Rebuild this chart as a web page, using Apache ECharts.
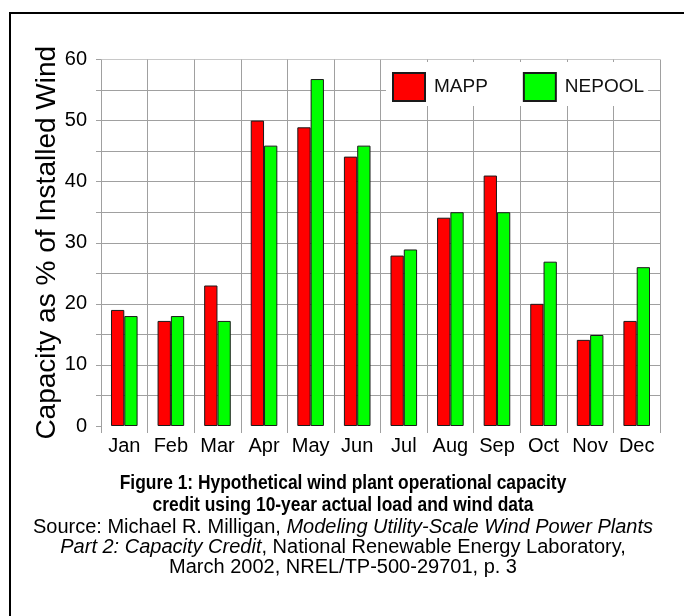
<!DOCTYPE html>
<html>
<head>
<meta charset="utf-8">
<script src="https://cdn.jsdelivr.net/npm/echarts@6/dist/echarts.min.js"></script>
<style>
  html, body { margin: 0; padding: 0; background: #fff; }
  #main { width: 684px; height: 616px; }
</style>
</head>
<body>
<div id="main"></div>
<script>
// month names on the x axis
const months = ['Jan', 'Feb', 'Mar', 'Apr', 'May', 'Jun', 'Jul', 'Aug', 'Sep', 'Oct', 'Nov', 'Dec'];
// capacity credit, % of installed wind
const mapp = [19, 17.2, 23, 50, 48.9, 44.1, 27.9, 34.1, 41, 20, 14.1, 17.2];
const nepool = [18, 18, 17.2, 45.9, 56.8, 45.9, 28.9, 35, 35, 26.9, 14.9, 26];

const font = '"Liberation Sans", Arial, sans-serif';

// gridline colours per tick (0..60 step 5), no line at zero
const gridColors = ['transparent'];
for (let i = 1; i <= 12; i++) gridColors.push(i === 12 ? '#c8c8c8' : '#a0a0a0');

const chart = echarts.init(document.getElementById('main'), null, { renderer: 'canvas' });

chart.setOption({
  animation: false,
  backgroundColor: '#fff',
  textStyle: { fontFamily: font },
  graphic: [
    {
      // frame round the figure
      type: 'rect',
      shape: { x: 10, y: 13, width: 700, height: 700 },
      style: { fill: 'none', stroke: '#000', lineWidth: 2 },
      z: 0
    },
    {
      type: 'text',
      x: 343,
      y: 472,
      scaleX: 0.87,
      style: {
        text: 'Figure 1: Hypothetical wind plant operational capacity\ncredit using 10-year actual load and wind data',
        font: 'bold 20px ' + font,
        lineHeight: 22,
        align: 'center',
        textAlign: 'center',
        verticalAlign: 'top',
        textVerticalAlign: 'top',
        fill: '#000'
      }
    },
    {
      type: 'text',
      x: 343,
      y: 517,
      style: {
        text: 'Source: Michael R. Milligan, {i|Modeling Utility-Scale Wind Power Plants}\n{i|Part 2: Capacity Credit}, National Renewable Energy Laboratory,\nMarch 2002, NREL/TP-500-29701, p. 3',
        font: '20px ' + font,
        lineHeight: 20,
        align: 'center',
        textAlign: 'center',
        verticalAlign: 'top',
        textVerticalAlign: 'top',
        fill: '#000',
        rich: { i: { fontFamily: font, fontStyle: 'italic', fontSize: 20, lineHeight: 20, fill: '#000', color: '#000' } }
      }
    }
  ],
  legend: {
    data: ['MAPP', 'NEPOOL'],
    left: 386,
    top: 62,
    padding: [10, 4, 4, 6],
    backgroundColor: '#fff',
    itemWidth: 32,
    itemHeight: 28,
    itemGap: 35,
    icon: 'rect',
    textStyle: { fontSize: 19, color: '#111', padding: [0, 0, 0, 4] },
    z: 10
  },
  grid: { left: 101, right: 24, top: 59.5, bottom: 190 },
  xAxis: {
    type: 'category',
    data: months,
    axisLine: { show: false },
    axisTick: { show: true, interval: 0, length: 7, lineStyle: { color: '#a0a0a0' } },
    splitLine: { show: true, interval: 0, lineStyle: { color: '#a0a0a0' } },
    axisLabel: { fontSize: 20, color: '#000', margin: 10, interval: 0 }
  },
  yAxis: {
    type: 'value',
    min: 0,
    max: 60,
    interval: 5,
    name: 'Capacity as % of Installed Wind',
    nameLocation: 'middle',
    nameGap: 40,
    nameMoveOverlap: false,
    nameTextStyle: { fontSize: 28, color: '#000' },
    axisLine: { show: false },
    axisTick: { show: true, length: 5, lineStyle: { color: '#a0a0a0' } },
    splitLine: { show: true, lineStyle: { color: gridColors } },
    axisLabel: {
      fontSize: 20, color: '#000', margin: 14,
      formatter: v => (v % 10 === 0 ? String(v) : '')
    }
  },
  series: [
    {
      name: 'MAPP',
      type: 'bar',
      data: mapp,
      barWidth: 13.3,
      barGap: '0%',
      itemStyle: { color: '#ff0000', borderColor: '#1a1a1a', borderWidth: 1 }
    },
    {
      name: 'NEPOOL',
      type: 'bar',
      data: nepool,
      barWidth: 13.3,
      barGap: '0%',
      itemStyle: { color: '#00ff00', borderColor: '#1a1a1a', borderWidth: 1 }
    }
  ]
});
</script>
</body>
</html>
